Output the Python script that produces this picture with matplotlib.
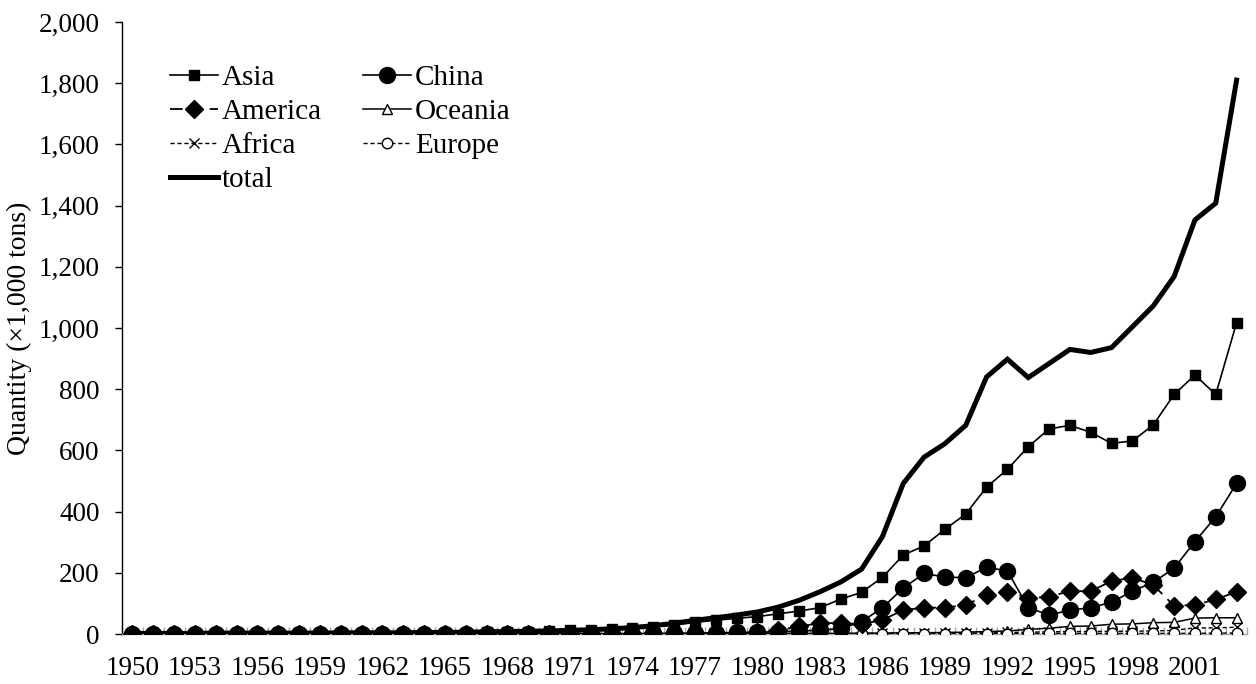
import matplotlib

matplotlib.use("Agg")
import matplotlib.pyplot as plt
import numpy as np
from matplotlib.ticker import FuncFormatter, MultipleLocator

years = list(range(1950, 2004))

# quantities in 1,000 tons, 1950-2003
asia = [1, 1, 1, 1, 1, 1, 1, 2, 2, 2,
        2, 2, 2, 3, 3, 3, 4, 5, 6, 7,
        10, 12, 13, 16, 20, 24, 29, 38, 45, 51,
        57, 66, 75, 86, 114, 136, 185, 258, 288, 342,
        392, 480, 538, 612, 670, 682, 659, 623, 631, 683,
        783, 846, 783, 1017]
china = [0, 0, 0, 0, 0, 0, 0, 0, 0, 0,
         0, 0, 0, 0, 0, 0, 0, 0, 0, 0,
         1, 1, 1, 1, 1, 2, 2, 3, 4, 5,
         6, 7, 10, 12, 18, 40, 86, 150, 198, 186,
         184, 218, 206, 86, 62, 78, 86, 104, 140, 169,
         215, 302, 383, 492]
america = [0, 0, 0, 0, 0, 0, 0, 0, 0, 0,
           0, 0, 0, 0, 0, 0, 0, 0, 0, 0,
           1, 1, 1, 1, 1, 2, 2, 2, 3, 4,
           5, 12, 25, 35, 36, 32, 46, 78, 86, 86,
           95, 127, 138, 117, 122, 140, 140, 173, 184, 160,
           92, 95, 113, 138]
oceania = [0, 0, 0, 0, 0, 0, 0, 0, 0, 0,
           0, 0, 0, 0, 0, 0, 0, 0, 0, 0,
           0, 0, 0, 0, 1, 1, 1, 1, 1, 1,
           1, 2, 2, 2, 2, 3, 3, 4, 4, 5,
           6, 8, 10, 15, 19, 25, 26, 32, 33, 37,
           38, 52, 53, 53]
africa = [0, 0, 0, 0, 0, 0, 0, 0, 0, 0,
          0, 0, 0, 0, 0, 0, 0, 0, 0, 0,
          0, 0, 0, 0, 0, 0, 0, 0, 1, 1,
          1, 1, 1, 1, 1, 2, 2, 2, 2, 3,
          3, 4, 5, 6, 7, 8, 8, 9, 9, 10,
          12, 20, 20, 22]
europe = [0, 0, 0, 0, 0, 0, 0, 0, 0, 0,
          0, 0, 0, 0, 0, 0, 0, 0, 0, 0,
          0, 0, 0, 0, 0, 0, 0, 0, 0, 0,
          0, 0, 0, 0, 0, 1, 1, 1, 1, 1,
          1, 1, 1, 2, 2, 2, 2, 2, 2, 2,
          2, 2, 3, 3]
total = [2, 2, 2, 2, 3, 3, 3, 3, 3, 3,
         4, 4, 4, 4, 5, 5, 6, 7, 8, 9,
         10, 12, 14, 17, 21, 27, 35, 45, 53, 62,
         72, 88, 110, 138, 170, 212, 318, 492, 578, 622,
         682, 840, 898, 838, 884, 930, 920, 936, 1004, 1072,
         1168, 1353, 1408, 1810]

INK = "black"
AXGRAY = "#a6a6a6"

plt.rcParams.update({
    "font.family": ["Liberation Serif", "DejaVu Serif"],
    "font.size": 19.5,
    "axes.linewidth": 1.0,
})

fig = plt.figure(figsize=(12.56, 6.84), dpi=100)
ax = fig.add_axes([122 / 1256, 1 - 634 / 684, 1125 / 1256, 612 / 684])

x = np.arange(len(years))

h_asia, = ax.plot(x, asia, color=INK, lw=1.2, marker="s", ms=7, mfc=INK, mec=INK,
                  label="Asia", zorder=4)
h_america, = ax.plot(x, america, color=INK, lw=1.3, dashes=(7, 4), marker="D", ms=9.5,
                     mfc=INK, mec=INK, label="America", zorder=4)
h_oceania, = ax.plot(x, oceania, color=INK, lw=1.1, marker="^", ms=7.5, mfc="white",
                     mec=INK, mew=1.0, label="Oceania", zorder=3)
h_africa, = ax.plot(x, africa, color=INK, lw=1.0, dashes=(3, 2), marker="x", ms=6.5,
                    mec=INK, mew=1.0, label="Africa", zorder=3)
h_europe, = ax.plot(x, europe, color=INK, lw=1.0, dashes=(3, 2), marker="o", ms=7.5,
                    mfc="white", mec=INK, mew=1.0, label="Europe", zorder=3)
h_china, = ax.plot(x, china, color=INK, lw=1.2, marker="o", ms=11.5, mfc=INK, mec=INK,
                   label="China", zorder=5)
h_total, = ax.plot(x, total, color=INK, lw=3.6, solid_joinstyle="miter", label="total",
                   zorder=6)

ax.set_xlim(-0.5, len(years) - 0.5)
ax.set_ylim(0, 2000)
ax.yaxis.set_major_locator(MultipleLocator(200))
ax.yaxis.set_major_formatter(FuncFormatter(lambda v, _: f"{int(v):,}"))
ax.tick_params(axis="y", direction="out", length=5, width=1.0, colors=INK, pad=11,
               labelsize=19.5)

# year labels every third year, category dividers as minor ticks
ax.set_xticks(x[::3])
ax.set_xticklabels([str(y) for y in years[::3]])
ax.set_xticks(np.arange(-0.5, len(years), 1), minor=True)
ax.tick_params(axis="x", which="major", length=0, pad=16, labelsize=19.5)
ax.tick_params(axis="x", which="minor", direction="in", length=5, width=1.0,
               color=AXGRAY)

for s in ("top", "right"):
    ax.spines[s].set_visible(False)
ax.spines["bottom"].set_color(AXGRAY)
ax.spines["left"].set_color(INK)

ax.set_ylabel("Quantity (\u00d71,000 tons)", fontsize=20)
ax.yaxis.set_label_coords(-90 / 1125, 0.5)

handles = [h_asia, h_america, h_africa, h_total, h_china, h_oceania, h_europe]
ax.legend(handles=handles, labels=[h.get_label() for h in handles], ncol=2,
          loc="upper left", bbox_to_anchor=(170 / 1256, 1 - 65 / 684),
          bbox_transform=fig.transFigure, frameon=False, fontsize=21,
          handlelength=1.65, handletextpad=0.14, columnspacing=1.38,
          labelspacing=0.26, borderpad=0, borderaxespad=0)

fig.savefig("out.png", dpi=100)
